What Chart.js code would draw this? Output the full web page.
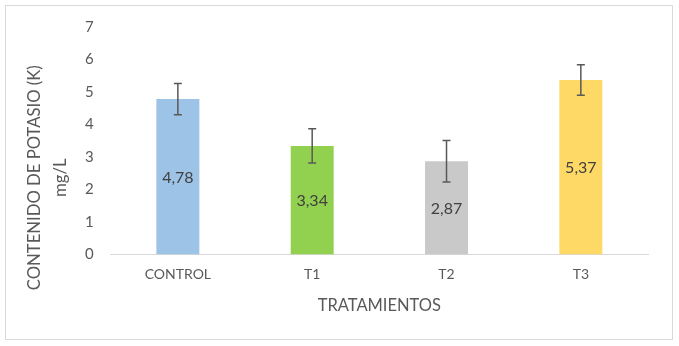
<!DOCTYPE html>
<html><head><meta charset="utf-8">
<script src="https://cdn.jsdelivr.net/npm/chart.js@4/dist/chart.umd.min.js"></script>
<style>html,body{margin:0;padding:0;background:#fff}#w{width:679px;height:346px}</style>
</head><body><div id="w"><canvas id="c" width="679" height="346"></canvas></div>
<script>
const categories = ['CONTROL', 'T1', 'T2', 'T3'];
const values = [4.78, 3.34, 2.87, 5.37];
const errors = [0.48, 0.53, 0.64, 0.47];
const valueLabels = ['4,78', '3,34', '2,87', '5,37'];
const barColors = ['#9DC3E6', '#92D050', '#C9C9C9', '#FFD966'];
const yTicks = [0, 1, 2, 3, 4, 5, 6, 7];
const yTitleLines = ['CONTENIDO DE POTASIO (K)', 'mg/L'];

const FONT = 'Lato, "Open Sans", sans-serif';

const extras = {
  id: 'extras',
  beforeDraw(chart) {
    const ctx = chart.ctx;
    ctx.save();
    ctx.fillStyle = '#fff';
    ctx.fillRect(0, 0, chart.width, chart.height);
    ctx.strokeStyle = '#D9D9D9';
    ctx.lineWidth = 1;
    ctx.strokeRect(5.5, 5.5, 667, 334);
    ctx.restore();
  },
  afterDraw(chart) {
    const ctx = chart.ctx;
    const ca = chart.chartArea;
    ctx.save();
    ctx.translate(0, (ca.top + ca.bottom) / 2 + 37);
    ctx.rotate(-Math.PI / 2);
    ctx.fillStyle = '#595959';
    ctx.font = '16.7px ' + FONT;
    ctx.textAlign = 'center';
    ctx.textBaseline = 'middle';
    ctx.fillText(yTitleLines[0], 0, 35);
    ctx.fillText(yTitleLines[1], 0, 61);
    ctx.restore();
  },
  afterDatasetsDraw(chart) {
    const ctx = chart.ctx;
    const meta = chart.getDatasetMeta(0);
    const y = chart.scales.y;
    ctx.save();
    meta.data.forEach((bar, i) => {
      const x = bar.x;
      const top = y.getPixelForValue(values[i] + errors[i]);
      const bot = y.getPixelForValue(values[i] - errors[i]);
      ctx.strokeStyle = '#595959';
      ctx.lineWidth = 1.5;
      ctx.beginPath();
      ctx.moveTo(x, top); ctx.lineTo(x, bot);
      ctx.moveTo(x - 4, top); ctx.lineTo(x + 4, top);
      ctx.moveTo(x - 4, bot); ctx.lineTo(x + 4, bot);
      ctx.stroke();
      ctx.fillStyle = '#404040';
      ctx.font = '16px ' + FONT;
      ctx.textAlign = 'center';
      ctx.textBaseline = 'middle';
      ctx.fillText(valueLabels[i], x, (bar.y + bar.base) / 2 + 1);
    });
    ctx.restore();
  }
};

new Chart(document.getElementById('c'), {
  type: 'bar',
  data: {
    labels: categories,
    datasets: [{
      data: values,
      backgroundColor: barColors,
      borderWidth: 0,
      barPercentage: 0.32,
      categoryPercentage: 1.0
    }]
  },
  options: {
    responsive: false,
    animation: false,
    devicePixelRatio: 1,
    layout: { padding: { left: 68, right: 31, top: 27, bottom: 26 } },
    plugins: { legend: { display: false }, tooltip: { enabled: false } },
    scales: {
      x: {
        grid: { display: false, drawTicks: false },
        border: { display: true, color: '#D9D9D9', width: 1 },
        ticks: { color: '#595959', font: { family: FONT, size: 14 }, padding: 12 },
        title: { display: true, text: 'TRATAMIENTOS', color: '#595959', font: { family: FONT, size: 16.5 }, padding: { top: 1 } }
      },
      y: {
        min: 0, max: 7,
        afterBuildTicks(axis) { axis.ticks = yTicks.map(v => ({ value: v })); },
        grid: { display: false, drawTicks: false },
        border: { display: false },
        ticks: { color: '#595959', font: { family: FONT, size: 15 }, padding: 17 },
        title: { display: false }
      }
    }
  },
  plugins: [extras]
});
</script>
</body></html>
